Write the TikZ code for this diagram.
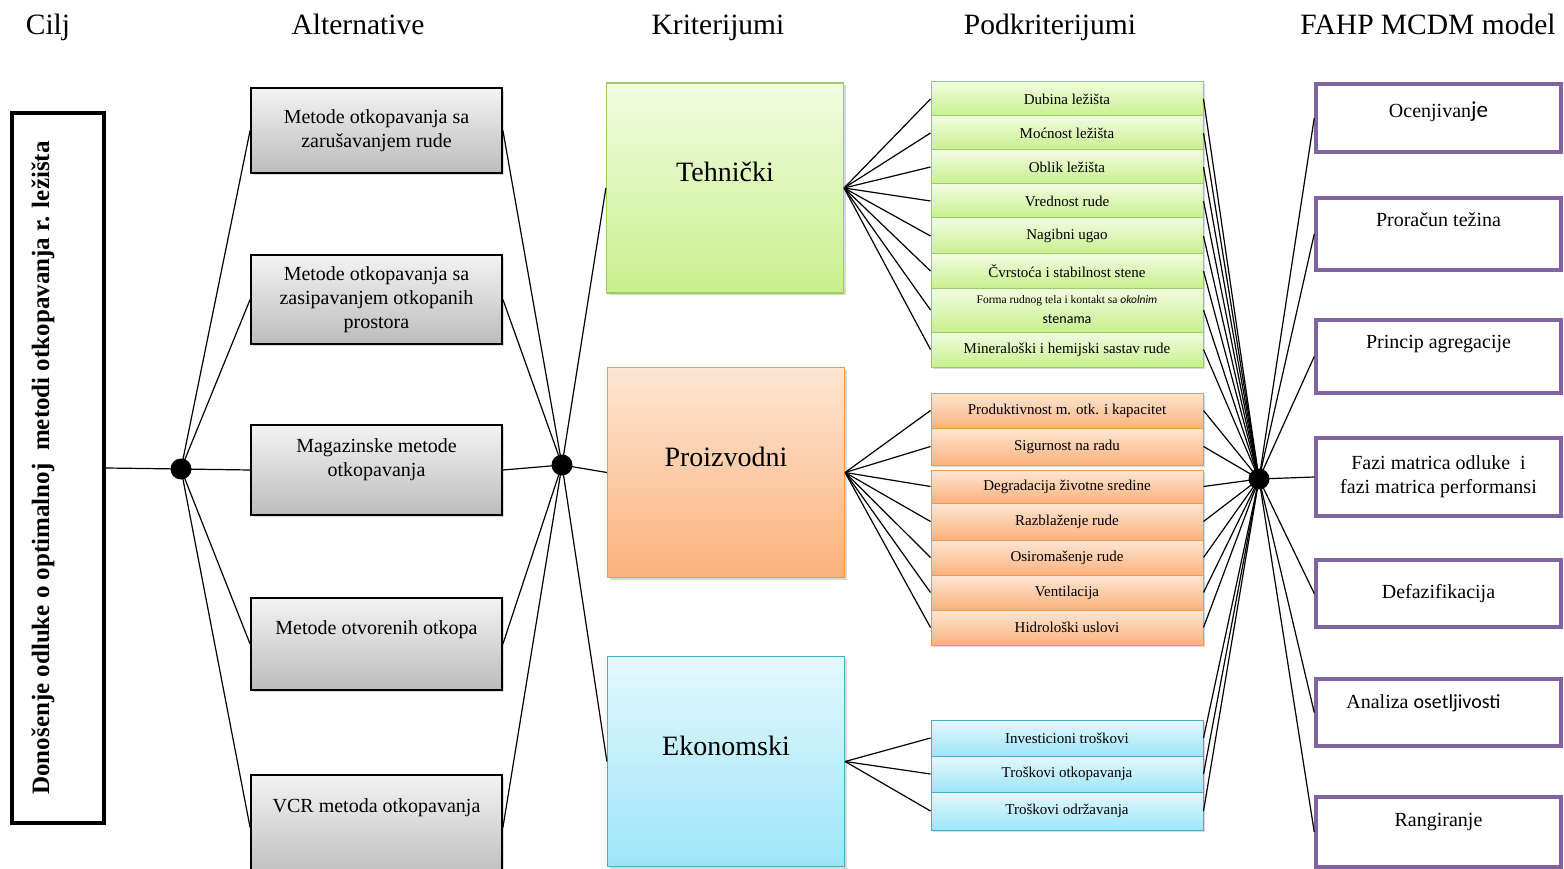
\documentclass[tikz,border=0pt]{standalone}
\usepackage{fontspec}
\setmainfont{Liberation Serif}
\newfontfamily\calibri{Carlito}
\usetikzlibrary{shadows}
\definecolor{altTop}{RGB}{243,243,243}
\definecolor{altBot}{RGB}{188,188,188}
\definecolor{grnTop}{RGB}{242,252,226}
\definecolor{grnBot}{RGB}{200,240,140}
\definecolor{grnLine}{RGB}{155,205,95}
\definecolor{orgTop}{RGB}{253,230,212}
\definecolor{orgBot}{RGB}{251,178,124}
\definecolor{orgLine}{RGB}{247,150,70}
\definecolor{bluTop}{RGB}{228,248,253}
\definecolor{bluBot}{RGB}{158,229,249}
\definecolor{bluLine}{RGB}{75,172,198}
\definecolor{purLine}{RGB}{128,100,162}

\begin{document}
\begin{tikzpicture}[x=1pt,y=-1pt,
    every node/.style={font=\fontsize{20}{24}\selectfont},
    title/.style={font=\fontsize{29.5}{33}\selectfont, anchor=base},
    shade/.style={drop shadow={opacity=0.3,shadow xshift=2pt,shadow yshift=-2pt}},
    altbox/.style={draw=black, line width=1.8pt, top color=altTop, bottom color=altBot,
        minimum width=251pt, inner sep=0pt, align=center, shade},
    critbox/.style={draw=#1Line, line width=1.2pt, top color=#1Top, bottom color=#1Bot,
        minimum width=237pt, minimum height=210pt, inner sep=0pt, text depth=32pt,
        font=\fontsize{28}{32}\selectfont, shade},
    subbox/.style={draw=#1Line, line width=1pt, top color=#1Top, bottom color=#1Bot,
        minimum width=272pt, inner sep=0pt, align=center,
        font=\fontsize{15}{20}\selectfont, shade},
    stepbox/.style={draw=purLine, line width=3.5pt, minimum width=245pt, inner sep=0pt, align=center},
    hub/.style={circle, fill=black, minimum size=21pt, inner sep=0pt},
    link/.style={line width=1.2pt}]
\useasboundingbox (0,0) rectangle (1564,869);

% naslovi kolona
\node[title] (tCilj) at (48,35) {Cilj};
\node[title] (tAlt) at (358,35) {Alternative};
\node[title] (tKrit) at (718,35) {Kriterijumi};
\node[title] (tPod) at (1050,35) {Podkriterijumi};
\node[title] (tModel) at (1428,35) {FAHP MCDM model};

% cilj
\node[draw=black, line width=4pt, minimum width=92pt, minimum height=710pt] (goal) at (58,468) {};
\node[rotate=90, font=\bfseries\fontsize{25}{28}\selectfont] (goalText) at (43,468)
    {Donošenje odluke o optimalnoj \ metodi otkopavanja r. ležišta};

% alternative
\node[altbox, minimum height=85pt] (alt1) at (376.5,130.5) {Metode otkopavanja sa\\zarušavanjem rude};
\node[altbox, minimum height=89pt] (alt2) at (376.5,299.5) {Metode otkopavanja sa\\zasipavanjem otkopanih\\prostora};
\node[altbox, minimum height=90pt, text depth=24pt] (alt3) at (376.5,470) {Magazinske metode\\otkopavanja};
\node[altbox, minimum height=92pt, text depth=32pt] (alt4) at (376.5,644) {Metode otvorenih otkopa};
\node[altbox, minimum height=105pt, text depth=44pt] (alt5) at (376.5,827.5) {VCR metoda otkopavanja};

% kriterijumi
\node[critbox=grn] (tech) at (725,188) {Tehnički};
\node[critbox=org] (prod) at (726,472.5) {Proizvodni};
\node[critbox=blu] (eko) at (726,761.5) {Ekonomski};

% podkriterijumi - tehnicki
\node[subbox=grn, minimum height=34pt] (g1) at (1067,99) {Dubina ležišta};
\node[subbox=grn, minimum height=34pt] (g2) at (1067,133) {Moćnost ležišta};
\node[subbox=grn, minimum height=34pt] (g3) at (1067,167) {Oblik ležišta};
\node[subbox=grn, minimum height=34pt] (g4) at (1067,201) {Vrednost rude};
\node[subbox=grn, minimum height=36pt] (g5) at (1067,236) {Nagibni ugao};
\node[subbox=grn, minimum height=34pt] (g6) at (1067,271) {Čvrstoća i stabilnost stene};
\node[subbox=grn, minimum height=44pt] (g7) at (1067,310)
    {{\fontsize{11.5}{12}\selectfont Forma rudnog tela i kontakt sa {\calibri\itshape okolnim}}\\{\calibri\fontsize{14}{20}\selectfont stenama}};
\node[subbox=grn, minimum height=35pt] (g8) at (1067,349.5) {Mineraloški i hemijski sastav rude};

% podkriterijumi - proizvodni
\node[subbox=org, minimum height=35pt] (o1) at (1067,410.5) {Produktivnost m. otk. i kapacitet};
\node[subbox=org, minimum height=37pt] (o2) at (1067,446.5) {Sigurnost na radu};
\node[subbox=org, minimum height=33pt] (o3) at (1067,486.5) {Degradacija životne sredine};
\node[subbox=org, minimum height=37pt] (o4) at (1067,521.5) {Razblaženje rude};
\node[subbox=org, minimum height=35pt] (o5) at (1067,557.5) {Osiromašenje rude};
\node[subbox=org, minimum height=35pt] (o6) at (1067,592.5) {Ventilacija};
\node[subbox=org, minimum height=35pt] (o7) at (1067,627.5) {Hidrološki uslovi};

% podkriterijumi - ekonomski
\node[subbox=blu, minimum height=36pt] (b1) at (1067,738) {Investicioni troškovi};
\node[subbox=blu, minimum height=36pt] (b2) at (1067,774) {Troškovi otkopavanja};
\node[subbox=blu, minimum height=38pt] (b3) at (1067,811) {Troškovi održavanja};

% FAHP koraci
\node[stepbox, minimum height=68pt, text depth=16pt] (s1) at (1438.5,118) {Ocenjivan{\calibri\fontsize{23}{24}\selectfont je}};
\node[stepbox, minimum height=72pt, text depth=28pt] (s2) at (1438.5,234) {Proračun težina};
\node[stepbox, minimum height=73pt, text depth=30pt] (s3) at (1438.5,356.5) {Princip agregacije};
\node[stepbox, minimum height=78pt] (s4) at (1438.5,477) {Fazi matrica odluke \ i\\fazi matrica performansi};
\node[stepbox, minimum height=67pt] (s5) at (1438.5,593.5) {Defazifikacija};
\node[stepbox, minimum height=67pt, text depth=22pt] (s6) at (1438.5,712.5) {\hspace{-30pt}Analiza {\calibri osetljivosti}};
\node[stepbox, minimum height=70pt, text depth=24pt] (s7) at (1438.5,832) {Rangiranje};

% cvorista
\node[hub] (hubA) at (181,469) {};
\node[hub] (hubB) at (562,465) {};
\node[hub] (hubC) at (1259,479) {};

% veze
\draw[link] (goal.east) -- (hubA.center);
\foreach \a in {alt1,alt2,alt3,alt4,alt5}{
  \draw[link] (hubA.center) -- (\a.west);
  \draw[link] (\a.east) -- (hubB.center);
}
\foreach \k in {tech,prod,eko}
  \draw[link] (hubB.center) -- (\k.west);
\foreach \s in {g1,g2,g3,g4,g5,g6,g7,g8}
  \draw[link] (tech.east) -- (\s.west);
\foreach \s in {o1,o2,o3,o4,o5,o6,o7}
  \draw[link] (prod.east) -- (\s.west);
\foreach \s in {b1,b2,b3}
  \draw[link] (eko.east) -- (\s.west);
\foreach \s in {g1,g2,g3,g4,g5,g6,g7,g8,o1,o2,o3,o4,o5,o6,o7,b1,b2,b3}
  \draw[link] (\s.east) -- (hubC.center);
\foreach \m in {s1,s2,s3,s4,s5,s6,s7}
  \draw[link] (hubC.center) -- (\m.west);
\end{tikzpicture}
\end{document}
